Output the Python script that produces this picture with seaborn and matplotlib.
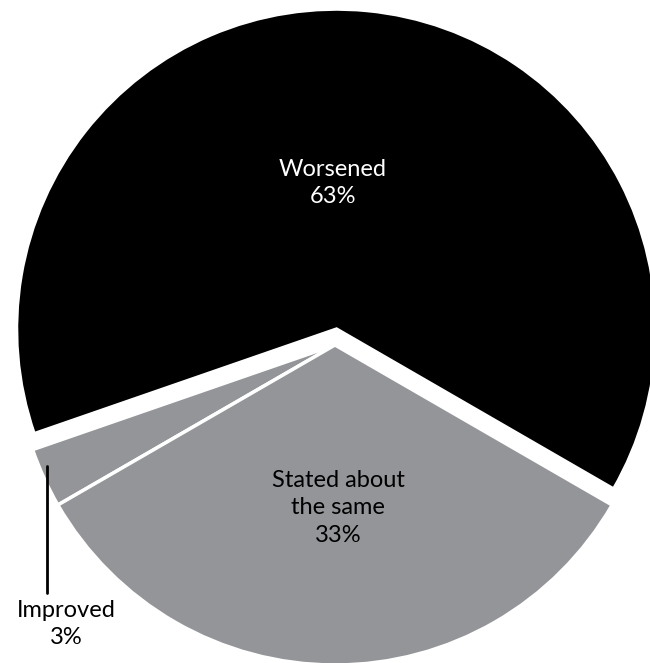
import matplotlib
matplotlib.use("Agg")
import matplotlib.pyplot as plt
import seaborn as sns

sns.set_style("white")
plt.rcParams['font.family'] = ['Lato', 'DejaVu Sans']

categories = ["Worsened", "Improved", "Stated about\nthe same"]
values = [63, 3, 33]
colors = ["#000000", "#939598", "#939598"]
explode = [0.05, 0, 0]

fig = plt.figure(figsize=(6.5, 6.63), dpi=100)
ax = fig.add_axes([0, 0, 1, 1])

# pixel -> data helper (center of gray slices at pixel 335,345; radius 320 px)
CX, CY, R = 335, 345, 320
def px(x, y):
    return (x - CX) / R, (CY - y) / R

ax.pie(values, colors=colors, explode=explode, startangle=-30, counterclock=True,
       radius=1, wedgeprops=dict(edgecolor="white", linewidth=2.5))

ax.set_xlim(px(0, 0)[0], px(650, 0)[0])
ax.set_ylim(px(0, 663)[1], px(0, 0)[1])
ax.set_aspect("equal")
ax.axis("off")

fs = 17
ls = 1.4
x, y = px(333, 183)
ax.text(x, y, f"{categories[0]}\n{values[0]}%", color="white", ha="center", va="center",
        fontsize=fs, linespacing=ls)
x, y = px(338, 508)
ax.text(x, y, f"{categories[2]}\n{values[2]}%", color="black", ha="center", va="center",
        fontsize=fs, linespacing=ls)
x, y = px(66, 624)
ax.text(x, y, f"{categories[1]}\n{values[1]}%", color="black", ha="center", va="center",
        fontsize=fs, linespacing=ls)
x0, y0 = px(47, 466)
x1, y1 = px(47, 593)
ax.plot([x0, x1], [y0, y1], color="black", lw=2)

fig.savefig("out.png", dpi=100)
